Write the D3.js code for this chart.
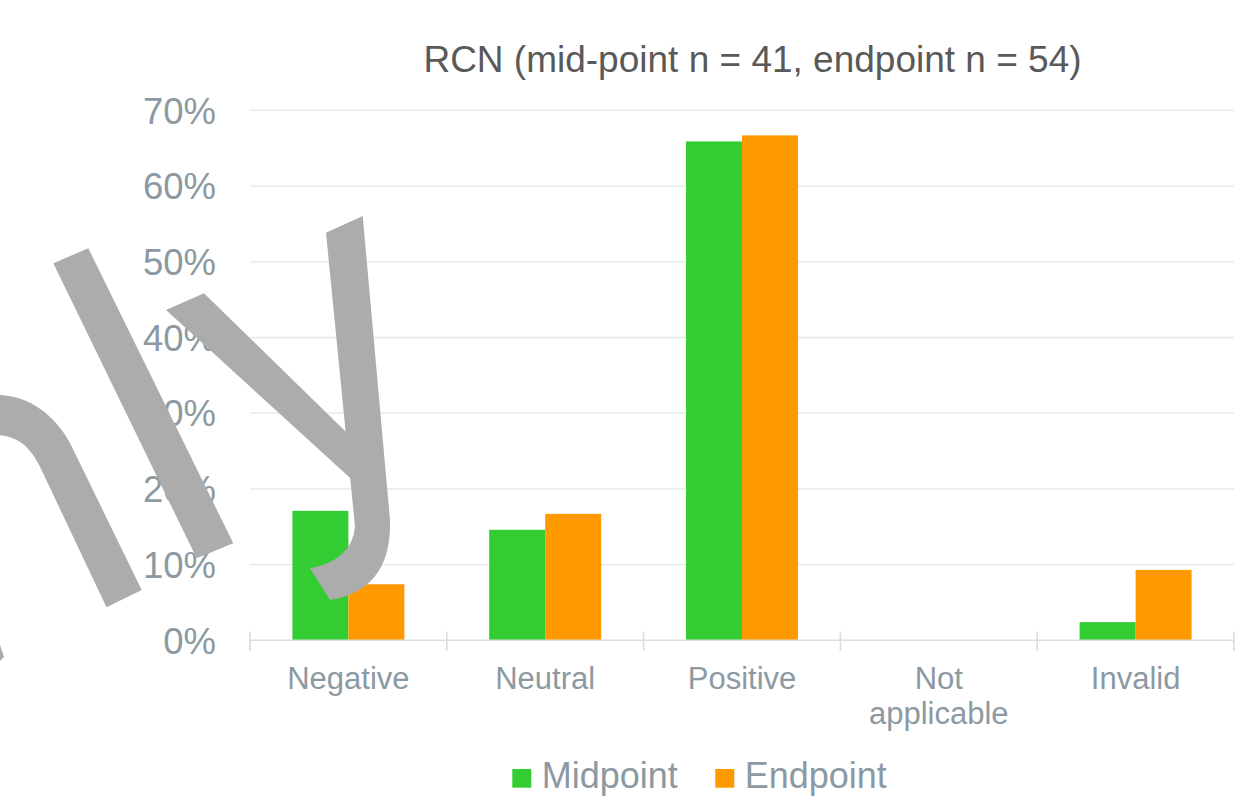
<!DOCTYPE html>
<html>
<head>
<meta charset="utf-8">
<script src="https://cdn.jsdelivr.net/npm/d3@7"></script>
<style>
  html, body { margin: 0; padding: 0; background: #ffffff; }
  svg { display: block; font-family: "Liberation Sans", Arial, Helvetica, sans-serif; }
</style>
</head>
<body>
<svg id="chart" width="1244" height="796"></svg>
<script>
// ---- data ----
const categories = ["Negative", "Neutral", "Positive", "Not applicable", "Invalid"];
const seriesNames = ["Midpoint", "Endpoint"];
const midpoint = [17.1, 14.6, 65.9, 0, 2.4];   // % (7/41, 6/41, 27/41, 0, 1/41)
const endpoint = [7.4, 16.7, 66.7, 0, 9.3];    // % (4/54, 9/54, 36/54, 0, 5/54)
const yTickValues = [0, 10, 20, 30, 40, 50, 60, 70];
const titleText = "RCN (mid-point n = 41, endpoint n = 54)";

// ---- styles ----
const seriesColors = ["#33cc33", "#ff9900"];
const textGray = "#8c99a2";
const gridColor = "#e3e7e7";
const axisColor = "#d9dddd";

// decorative watermark overlay (not data)
const watermarkPaths = [
  "M53.3,263.3 L88.3,248.3 L233.3,543.3 L196.7,558.3 Z",
  "M-2,395 C28,395 55,415 70,443 L141.7,590 L106.5,607.3 L40,466.7 C32,450 20,436 -2,435 Z",
  "M166,310 L204,293.3 L352,437.7 L360,487 Z",
  "M326,232.7 L362.7,216 L390,520 Q392,590 330,600 L310,568.3 Q352,560 355,526.7 Z",
  "M0,645 L4,657 L0,661 Z"
];

const svg = d3.select("#chart");
const plot = { left: 250, right: 1234, top: 110.4, bottom: 640.3 };

const x0 = d3.scaleBand().domain(categories).range([plot.left, plot.right]).padding(0);
const x1 = d3.scaleBand().domain(seriesNames).range([0, x0.bandwidth()])
  .paddingInner(0).paddingOuter(0.757);
const y = d3.scaleLinear().domain([0, 70]).range([plot.bottom, plot.top]);

// gridlines
svg.append("g").selectAll("line").data(yTickValues.filter(d => d > 0)).join("line")
  .attr("x1", plot.left).attr("x2", plot.right)
  .attr("y1", d => y(d)).attr("y2", d => y(d))
  .attr("stroke", gridColor).attr("stroke-width", 1.3);

// y axis labels
const yAxis = d3.axisLeft(y).tickValues(yTickValues).tickFormat(d => d + "%").tickSize(0).tickPadding(34);
const yg = svg.append("g").attr("transform", `translate(${plot.left},0)`).call(yAxis);
yg.select(".domain").remove();
yg.selectAll("text")
  .attr("fill", textGray)
  .style("font-size", "36.5px")
  .style("font-family", '"Liberation Sans", Arial, sans-serif')
  .attr("dy", "0.35em");

// bars
const rows = categories.map((c, i) => ({ cat: c, vals: [midpoint[i], endpoint[i]] }));
const groups = svg.append("g").selectAll("g").data(rows).join("g")
  .attr("transform", d => `translate(${x0(d.cat)},0)`);
groups.selectAll("rect").data(d => d.vals.map((v, j) => ({ name: seriesNames[j], v, j }))).join("rect")
  .attr("x", d => x1(d.name))
  .attr("width", x1.bandwidth())
  .attr("y", d => y(d.v))
  .attr("height", d => y(0) - y(d.v))
  .attr("fill", d => seriesColors[d.j]);

// x axis line and crossing ticks at band boundaries
const xg = svg.append("g");
xg.append("line")
  .attr("x1", plot.left).attr("x2", plot.right)
  .attr("y1", y(0)).attr("y2", y(0))
  .attr("stroke", axisColor).attr("stroke-width", 1.6);
const boundaries = categories.map(c => x0(c)).concat([x0.range()[1]]);
xg.selectAll("line.tick").data(boundaries).join("line").attr("class", "tick")
  .attr("x1", d => d).attr("x2", d => d)
  .attr("y1", y(0) - 8.6).attr("y2", y(0) + 10.4)
  .attr("stroke", axisColor).attr("stroke-width", 1.6);

// category labels with word wrap
const catFont = 31;
const labels = xg.selectAll("text.cat").data(categories).join("text").attr("class", "cat")
  .attr("text-anchor", "middle")
  .attr("fill", textGray)
  .style("font-size", catFont + "px");
labels.each(function (d) {
  const t = d3.select(this);
  const cx = x0(d) + x0.bandwidth() / 2;
  const words = d.split(" ");
  let lines = [], line = [];
  const probe = t.append("tspan");
  words.forEach(w => {
    const test = line.concat([w]).join(" ");
    probe.text(test);
    if (probe.node().getComputedTextLength() > x0.bandwidth() - 20 && line.length) {
      lines.push(line.join(" "));
      line = [w];
    } else line.push(w);
  });
  lines.push(line.join(" "));
  probe.remove();
  lines.forEach((ln, k) => {
    t.append("tspan").attr("x", cx).attr("y", 688.8 + k * 35).text(ln);
  });
});

// title
svg.append("text")
  .attr("x", 752.5).attr("y", 71.7)
  .attr("text-anchor", "middle")
  .attr("fill", "#595959")
  .style("font-size", "37px")
  .text(titleText);

// legend
const legend = svg.append("g");
let lx = 512.3;
seriesNames.forEach((name, j) => {
  legend.append("rect").attr("x", lx).attr("y", 769).attr("width", 19).attr("height", 18.7)
    .attr("fill", seriesColors[j]);
  const t = legend.append("text").attr("x", lx + 29.4).attr("y", 787.7)
    .attr("fill", textGray).style("font-size", "36px").text(name);
  lx = lx + 29.4 + t.node().getComputedTextLength() + 37.5;
});

// watermark overlay
svg.append("g").selectAll("path").data(watermarkPaths).join("path")
  .attr("d", d => d).attr("fill", "#acacac");
</script>
</body>
</html>
